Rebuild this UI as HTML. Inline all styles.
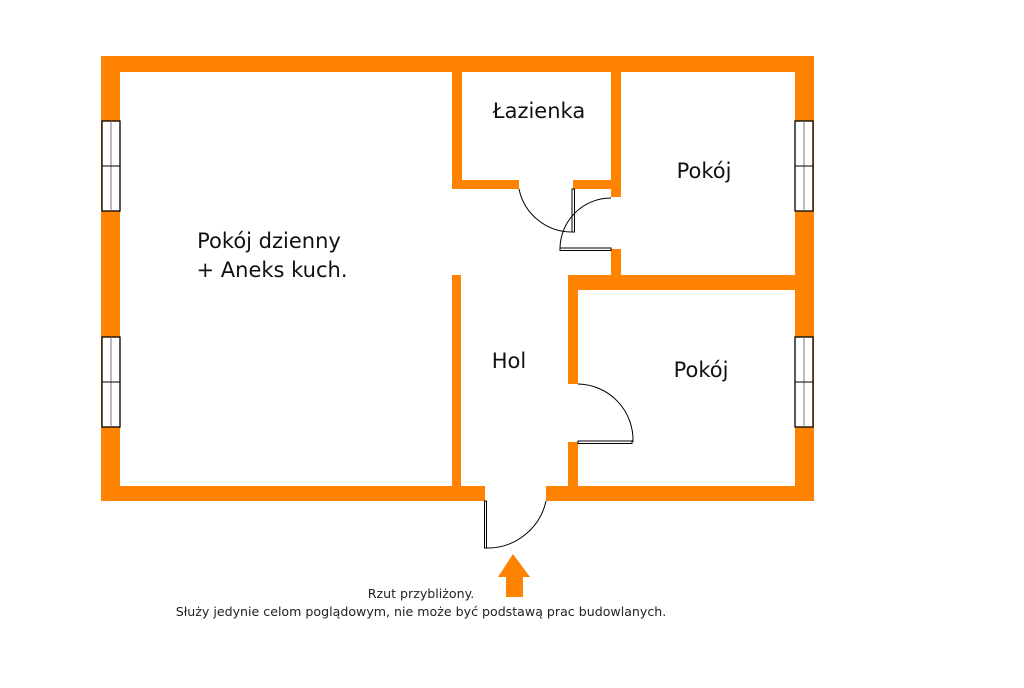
<!DOCTYPE html>
<html><head><meta charset="utf-8"><style>
html,body{margin:0;padding:0;background:#fff;}
</style></head><body>
<svg width="1024" height="683" viewBox="0 0 1024 683" xmlns="http://www.w3.org/2000/svg">
<rect width="1024" height="683" fill="#fff"/>
<g fill="#FF8300">
<rect x="101" y="56" width="713" height="16"/>
<rect x="101" y="56" width="19" height="445"/>
<rect x="795" y="56" width="19" height="445"/>
<rect x="101" y="486" width="384" height="15"/>
<rect x="546" y="486" width="268" height="15"/>
<rect x="452" y="72" width="10" height="117"/>
<rect x="452" y="180" width="67" height="9"/>
<rect x="573" y="180" width="48" height="9"/>
<rect x="611" y="72" width="10" height="125"/>
<rect x="611" y="249" width="10" height="30"/>
<rect x="452" y="275" width="9" height="215"/>
<rect x="568" y="275" width="230" height="15"/>
<rect x="568" y="275" width="10" height="109"/>
<rect x="568" y="442" width="10" height="46"/>
<polygon points="513,554 530,577 523,577 523,597 506,597 506,577 498,577"/>
</g>
<g fill="#fff" stroke="#000" stroke-width="1.3">
<rect x="102" y="121" width="18" height="90"/>
<rect x="102" y="337" width="18" height="90"/>
<rect x="795" y="121" width="18" height="90"/>
<rect x="795" y="337" width="18" height="90"/>
</g>
<g stroke="#777" stroke-width="1">
<line x1="111" y1="121" x2="111" y2="211"/><line x1="102" y1="166" x2="120" y2="166" stroke="#000"/>
<line x1="111" y1="337" x2="111" y2="427"/><line x1="102" y1="382" x2="120" y2="382" stroke="#000"/>
<line x1="804" y1="121" x2="804" y2="211"/><line x1="795" y1="166" x2="813" y2="166" stroke="#000"/>
<line x1="804" y1="337" x2="804" y2="427"/><line x1="795" y1="382" x2="813" y2="382" stroke="#000"/>
</g>
<g fill="none" stroke="#000" stroke-width="1">
<rect x="572" y="189" width="2.5" height="43" fill="#fff"/>
<path d="M519,189 A54,54 0 0 0 573,232"/>
<rect x="560" y="248" width="51" height="2.5" fill="#fff"/>
<path d="M560,249 A51,51 0 0 1 611,198"/>
<rect x="578" y="441" width="54" height="2.5" fill="#fff"/>
<path d="M578,384 A56,56 0 0 1 633,442"/>
<rect x="484.5" y="501" width="2" height="47" fill="#fff"/>
<path d="M486,548 A60,60 0 0 0 546,501"/>
</g>
<g font-family="'DejaVu Sans','Liberation Sans',sans-serif" fill="#111" font-size="21" text-anchor="middle">
<text x="539" y="118">Łazienka</text>
<text x="704" y="178">Pokój</text>
<text x="269" y="248">Pokój dzienny</text>
<text x="272" y="277">+ Aneks kuch.</text>
<text x="509" y="368">Hol</text>
<text x="701" y="377">Pokój</text>
</g>
<g font-family="'DejaVu Sans','Liberation Sans',sans-serif" fill="#222" font-size="12.6" text-anchor="middle">
<text x="421" y="598">Rzut przybliżony.</text>
<text x="421" y="616">Służy jedynie celom poglądowym, nie może być podstawą prac budowlanych.</text>
</g>
</svg>
</body></html>
